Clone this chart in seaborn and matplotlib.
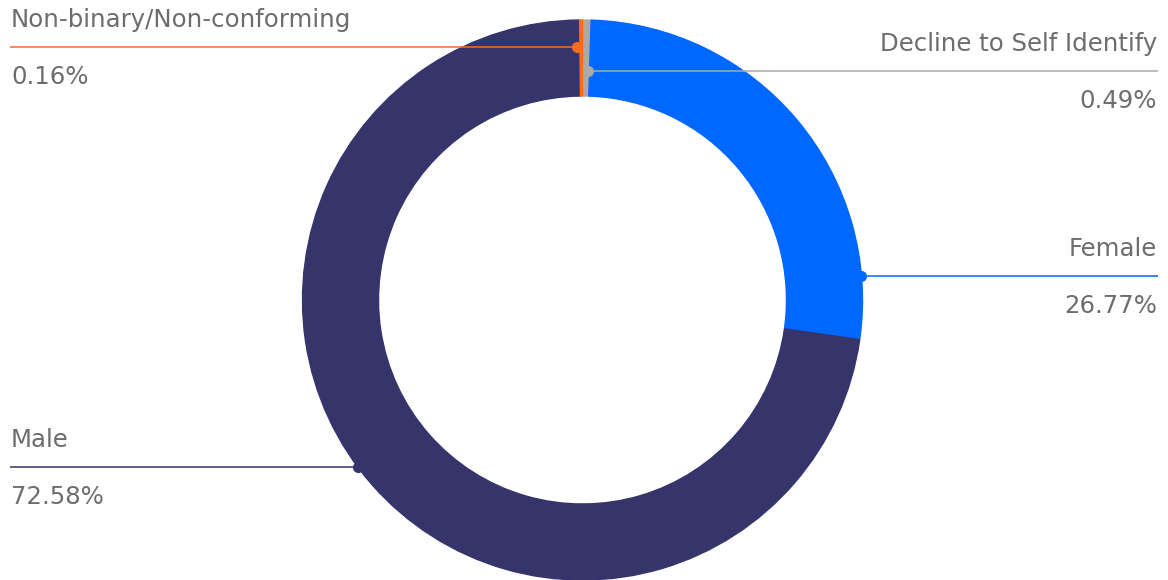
import numpy as np
import matplotlib
matplotlib.use("Agg")
import matplotlib.pyplot as plt
import seaborn as sns

# ---- data ----
categories = ["Decline to Self Identify", "Female", "Male", "Non-binary/Non-conforming"]
values = [0.49, 26.77, 72.58, 0.16]
value_labels = ["0.49%", "26.77%", "72.58%", "0.16%"]

# ---- style / layout ----
colors = ["#a9a9a9", "#0068ff", "#35346b", "#ff6b17"]
label_side = ["right", "right", "left", "left"]
label_line_px = [71, 276, 467, 47]   # pixel rows of leader lines (from top)

W, H = 1168, 580
cx, cy_px = 582.5, 300
R, ring = 280, 76
text_color = "#6d6d6d"

sns.set_theme(style="white")
plt.rcParams["font.family"] = ["DejaVu Sans"]

fig = plt.figure(figsize=(W / 100, H / 100), dpi=100)
ax = fig.add_axes([0, 0, 1, 1])
cy = H - cy_px

wedges, _ = ax.pie(values, colors=colors, startangle=90, counterclock=False,
                   center=(cx, cy), radius=R,
                   wedgeprops=dict(width=ring, linewidth=0))
for w, c in zip(wedges, colors):
    w.set_edgecolor(c)
    w.set_linewidth(1.0)

ax.set_xlim(0, W)
ax.set_ylim(0, H)
ax.set_aspect("equal")
ax.axis("off")

total = sum(values)
start = 0.0
for cat, v, vl, col, side, lpx in zip(categories, values, value_labels, colors,
                                       label_side, label_line_px):
    a0 = start / total * 360
    a1 = (start + v) / total * 360
    start += v
    ly = H - lpx
    dy = ly - cy
    dx = np.sqrt(max(R ** 2 - dy ** 2, 0))
    dx = dx if side == "right" else -dx
    ang = np.degrees(np.arctan2(dx, dy)) % 360
    if a0 <= ang <= a1:
        px = cx + dx
    else:
        mid = np.radians((a0 + a1) / 2)
        px = cx + dy / np.cos(mid) * np.sin(mid)
        px += -4 if side == "left" else 2
    if side == "right":
        ax.plot([px, 1158], [ly, ly], color=col, lw=1.1, zorder=3,
                solid_capstyle="butt")
        tx, ha = 1157, "right"
    else:
        ax.plot([10, px], [ly, ly], color=col, lw=1.1, zorder=3,
                solid_capstyle="butt")
        tx, ha = 11, "left"
    ax.plot([px], [ly], "o", color=col, ms=8, zorder=4, markeredgewidth=0)
    ax.text(tx, ly + 20, cat, ha=ha, va="baseline", fontsize=17.6,
            color=text_color)
    ax.text(tx, ly - 37, vl, ha=ha, va="baseline", fontsize=17.6,
            color=text_color)

fig.savefig("out.png", dpi=100)
